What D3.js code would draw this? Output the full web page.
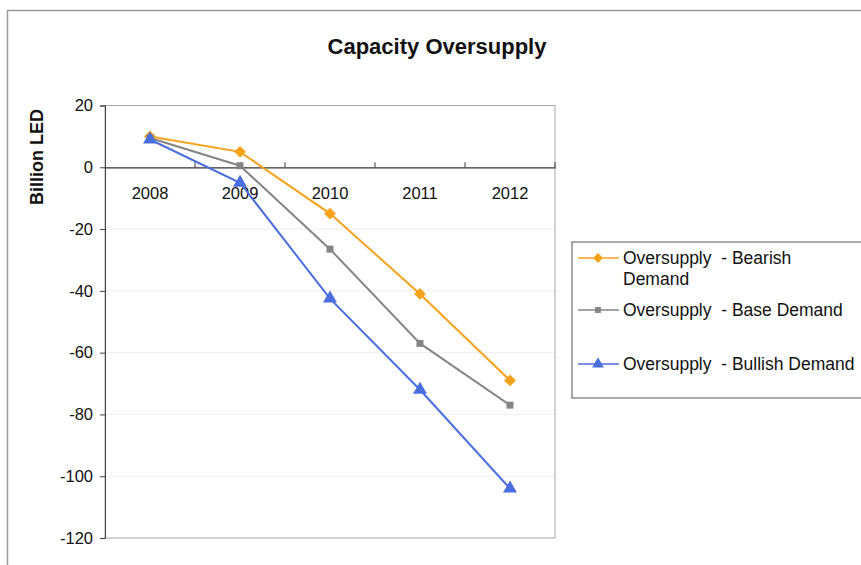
<!DOCTYPE html>
<html>
<head>
<meta charset="utf-8">
<script src="https://cdn.jsdelivr.net/npm/d3@7"></script>
<style>
  html, body { margin: 0; padding: 0; background: #fff; }
  svg { display: block; font-family: "Liberation Sans", Arial, Helvetica, sans-serif; }
</style>
</head>
<body>
<svg id="chart" width="861" height="565"></svg>
<script>
// Years on the category axis
const years = ["2008", "2009", "2010", "2011", "2012"];

// Oversupply (billion LED) under three demand scenarios
const bearish = [10, 5, -15, -41, -69];
const base = [9.5, 0.5, -26.5, -57, -77];
const bullish = [9, -5, -42.5, -72, -104];

// Value axis ticks
const yTicks = [20, 0, -20, -40, -60, -80, -100, -120];

const seriesNames = [
  ["Oversupply  - Bearish", "Demand"],
  ["Oversupply  - Base Demand"],
  ["Oversupply  - Bullish Demand"]
];

const series = [
  { values: bearish, color: "#f7a21b", marker: "diamond", label: seriesNames[0] },
  { values: base, color: "#858585", marker: "square", label: seriesNames[1] },
  { values: bullish, color: "#4a6ee0", marker: "triangle", label: seriesNames[2] }
];

const svg = d3.select("#chart");

// chart area frame
svg.append("rect")
  .attr("x", 7.5).attr("y", 10.5)
  .attr("width", 870).attr("height", 600)
  .attr("fill", "none").attr("stroke", "#9a9a9a").attr("stroke-width", 1.5);

const plot = { left: 105, right: 555, top: 105.5, bottom: 538 };

const x = d3.scaleBand().domain(years).range([plot.left, plot.right]);
const y = d3.scaleLinear().domain([20, -120]).range([plot.top, plot.bottom]);

// title
svg.append("text")
  .attr("x", 437).attr("y", 54)
  .attr("text-anchor", "middle")
  .attr("font-size", 22).attr("font-weight", "bold")
  .attr("fill", "#111")
  .text("Capacity Oversupply");

// y axis title
svg.append("text")
  .attr("transform", "translate(43,157) rotate(-90)")
  .attr("text-anchor", "middle")
  .attr("font-size", 18).attr("font-weight", "bold")
  .attr("fill", "#111")
  .text("Billion LED");

// horizontal gridlines
svg.append("g")
  .selectAll("line")
  .data(yTicks.filter(t => t !== 0 && t !== 20 && t !== -120))
  .join("line")
  .attr("x1", plot.left).attr("x2", plot.right)
  .attr("y1", d => y(d)).attr("y2", d => y(d))
  .attr("stroke", "#efefef").attr("stroke-width", 1);

// plot area border
svg.append("rect")
  .attr("x", plot.left).attr("y", plot.top)
  .attr("width", plot.right - plot.left).attr("height", plot.bottom - plot.top)
  .attr("fill", "none").attr("stroke", "#a8a8a8").attr("stroke-width", 1);

// value axis
const yAxis = d3.axisLeft(y).tickValues(yTicks).tickSize(5).tickPadding(7)
  .tickFormat(d => d < 0 ? "-" + Math.abs(d) : String(d));
const gy = svg.append("g")
  .attr("transform", `translate(${plot.left},0)`)
  .call(yAxis);
gy.select(".domain").attr("stroke", "#444");
gy.selectAll(".tick line").attr("stroke", "#444");
gy.selectAll(".tick text")
  .attr("font-size", 16.5).attr("fill", "#111")
  .attr("font-family", "'Liberation Sans', Arial, sans-serif");

// category axis along zero
const xAxis = d3.axisBottom(x).tickSize(0).tickPadding(20);
const gx = svg.append("g")
  .attr("transform", `translate(0,${y(0)})`)
  .call(xAxis);
gx.select(".domain").attr("stroke", "#333").attr("stroke-width", 1.2);
gx.selectAll(".tick text")
  .attr("font-size", 16.5).attr("fill", "#111")
  .attr("font-family", "'Liberation Sans', Arial, sans-serif");

// tick marks at category boundaries
svg.append("g")
  .selectAll("line")
  .data(years.slice(1).concat(["end"]))
  .join("line")
  .attr("x1", (d, i) => x.range()[0] + x.step() * (i + 1))
  .attr("x2", (d, i) => x.range()[0] + x.step() * (i + 1))
  .attr("y1", y(0) - 5).attr("y2", y(0))
  .attr("stroke", "#333");

const cx = (d, i) => x(years[i]) + x.bandwidth() / 2;
const line = d3.line().x(cx).y(d => y(d));

function drawMarker(g, type, color, size) {
  if (type === "diamond") {
    g.append("path").attr("d", d3.symbol(d3.symbolSquare, size)())
      .attr("transform", "rotate(45)")
      .attr("fill", color);
  } else if (type === "square") {
    g.append("path").attr("d", d3.symbol(d3.symbolSquare, size * 0.7)())
      .attr("fill", color);
  } else {
    g.append("path").attr("d", d3.symbol(d3.symbolTriangle, size * 1.2)())
      .attr("fill", color);
  }
}

series.forEach(s => {
  svg.append("path")
    .datum(s.values)
    .attr("d", line)
    .attr("fill", "none")
    .attr("stroke", s.color)
    .attr("stroke-width", 2);
  s.values.forEach((v, i) => {
    const g = svg.append("g")
      .attr("transform", `translate(${cx(v, i)},${y(v)})`);
    drawMarker(g, s.marker, s.color, 70);
  });
});

// legend
const legend = svg.append("g");
legend.append("rect")
  .attr("x", 572).attr("y", 242)
  .attr("width", 310).attr("height", 156)
  .attr("fill", "#fff").attr("stroke", "#555").attr("stroke-width", 1);

const legendRows = [258, 310, 364];
series.forEach((s, i) => {
  const ly = legendRows[i];
  legend.append("line")
    .attr("x1", 578).attr("x2", 619)
    .attr("y1", ly).attr("y2", ly)
    .attr("stroke", s.color).attr("stroke-width", 1.5);
  const g = legend.append("g").attr("transform", `translate(598,${ly})`);
  drawMarker(g, s.marker, s.color, 50);
  s.label.forEach((t, j) => {
    legend.append("text")
      .attr("x", 623).attr("y", ly + 6 + j * 21)
      .attr("font-size", 17.5).attr("fill", "#111")
      .attr("xml:space", "preserve")
      .style("white-space", "pre")
      .text(t);
  });
});
</script>
</body>
</html>
